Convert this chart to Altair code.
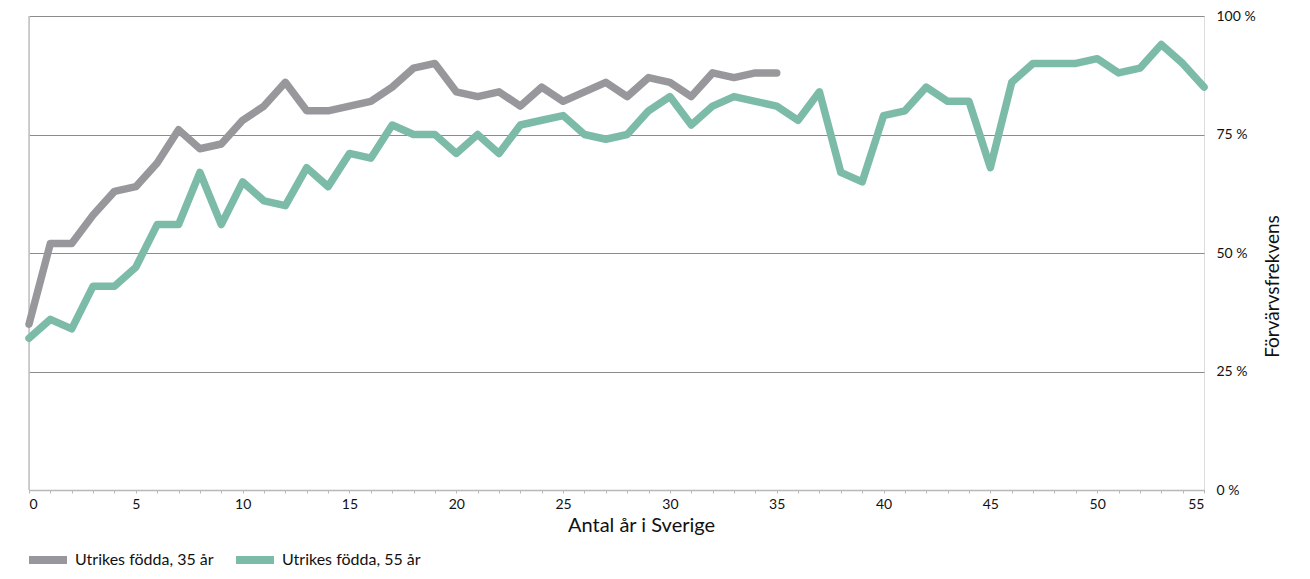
import altair as alt
import pandas as pd

years_35 = list(range(0, 36))
vals_35 = [35, 52, 52, 58, 63, 64, 69, 76, 72, 73, 78, 81, 86, 80, 80, 81, 82, 85, 89, 90,
           84, 83, 84, 81, 85, 82, 84, 86, 83, 87, 86, 83, 88, 87, 88, 88]
years_55 = list(range(0, 56))
vals_55 = [32, 36, 34, 43, 43, 47, 56, 56, 67, 56, 65, 61, 60, 68, 64, 71, 70, 77, 75, 75,
           71, 75, 71, 77, 78, 79, 75, 74, 75, 80, 83, 77, 81, 83, 82, 81, 78, 84, 67, 65,
           79, 80, 85, 82, 82, 68, 86, 90, 90, 90, 91, 88, 89, 94, 90, 85]
series_names = ["Utrikes födda, 35 år", "Utrikes födda, 55 år"]
series_colors = ["#98989c", "#7dbba9"]
x_minor_ticks = list(range(0, 56))
x_major_ticks = list(range(0, 56, 5))
y_ticks = [0, 25, 50, 75, 100]

df = pd.concat([
    pd.DataFrame({"år": years_35, "värde": vals_35, "serie": series_names[0]}),
    pd.DataFrame({"år": years_55, "värde": vals_55, "serie": series_names[1]}),
])

FONT = "Lato"
TXT = "#111111"

x_scale = alt.Scale(domain=[0, 55], nice=False, zero=False)
y_scale = alt.Scale(domain=[0, 100], nice=False)

lines = alt.Chart(df).mark_line(strokeWidth=7.5, strokeJoin="round", strokeCap="round").encode(
    x=alt.X("år:Q", scale=x_scale,
            axis=alt.Axis(orient="bottom", title="Antal år i Sverige", values=x_major_ticks,
                          grid=False, domain=False, ticks=False,
                          labelFont=FONT, labelFontSize=14, labelColor=TXT,
                          labelPadding=7, labelOverlap=False,
                          titleFont=FONT, titleFontSize=20, titleFontWeight="normal",
                          titleColor=TXT, titlePadding=4, titleX=612)),
    y=alt.Y("värde:Q", scale=y_scale,
            axis=alt.Axis(orient="right", title="Förvärvsfrekvens", values=y_ticks,
                          labelExpr="datum.value + ' %'",
                          grid=True, gridColor="#8c8c8c", gridWidth=1,
                          domain=False, ticks=False,
                          labelFont=FONT, labelFontSize=14, labelColor=TXT,
                          labelPadding=12,
                          titleFont=FONT, titleFontSize=19, titleFontWeight="normal",
                          titleColor=TXT, titleAngle=270,
                          titleX=78, titleY=270)),
    color=alt.Color("serie:N",
                    scale=alt.Scale(domain=series_names, range=series_colors),
                    legend=alt.Legend(title=None, orient="none", direction="horizontal",
                                      legendX=-4, legendY=521,
                                      symbolType="stroke", symbolStrokeWidth=8,
                                      symbolSize=1444, columnPadding=6,
                                      labelFont=FONT, labelFontSize=16,
                                      labelColor=TXT, labelOffset=4)),
)

left_line = alt.Chart(pd.DataFrame({"x0": [0], "y0": [0], "y1": [100]})).mark_rule(
    color="#c0c0c0", strokeWidth=1.5
).encode(
    x=alt.X("x0:Q", scale=x_scale,
            axis=alt.Axis(orient="bottom", title=None, values=x_minor_ticks, labels=False,
                          grid=False, domainColor="#b8b8b8", domainWidth=1.5,
                          tickColor="#b8b8b8", tickSize=3, tickWidth=1)),
    y=alt.Y("y0:Q", scale=y_scale),
    y2="y1:Q",
)

chart = alt.layer(left_line, lines).resolve_axis(x="independent").properties(
    width=1175, height=474,
    padding={"left": 21, "top": 8, "right": 90, "bottom": 81},
    autosize=alt.AutoSizeParams(type="none"),
).configure_view(stroke=None).configure(background="white")

chart.save("out.html", embed_options={"renderer": "svg", "actions": False})
